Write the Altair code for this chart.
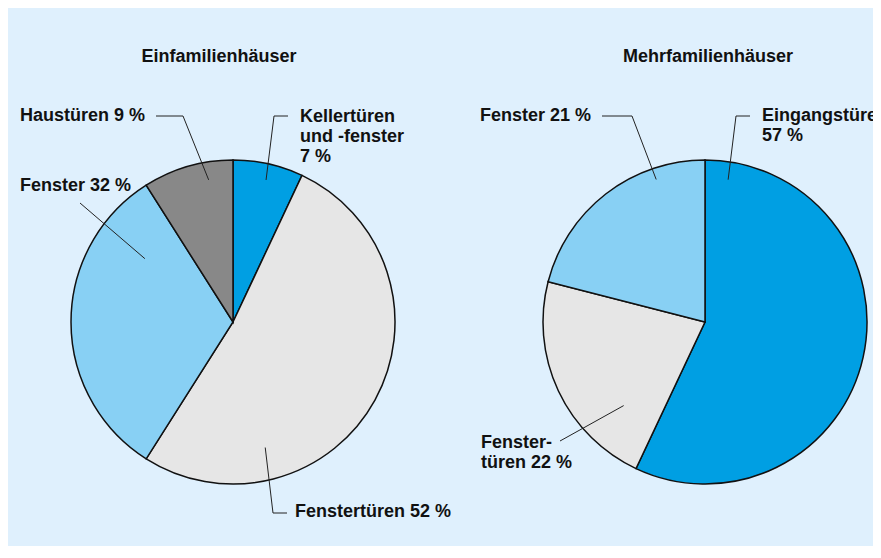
import math
import altair as alt
import pandas as pd

# ---------------- data ----------------
titles = ["Einfamilienhäuser", "Mehrfamilienhäuser"]

pie1_labels = ["Kellertüren und -fenster", "Fenstertüren", "Fenster", "Haustüren"]
pie1_values = [7, 52, 32, 9]
pie1_texts = ["Kellertüren\nund -fenster\n7 %", "Fenstertüren 52 %", "Fenster 32 %", "Haustüren 9 %"]

pie2_labels = ["Eingangstüren", "Fenstertüren", "Fenster"]
pie2_values = [57, 22, 21]
pie2_texts = ["Eingangstüren\n57 %", "Fenster-\ntüren 22 %", "Fenster 21 %"]

# ---------------- layout / style ----------------
W, H = 865, 538
X0, Y0 = 8, 8                     # page offset of the chart
R = 162
centers = [(233, 322), (705, 322)]
title_pos = [(219, 57), (708, 57)]

# label placement: (text x, first-line y, anchor position inside slice as fraction of slice, radius fraction, extra leader points)
place1 = [
    (300, 117, 0.52, 0.90, [(274, 116), (288, 116)]),
    (295, 512, 0.75, 0.80, [(273, 513), (287, 513)]),
    (20, 186, 0.81, 0.67, [(80, 203)]),
    (20, 116, 0.70, 0.89, [(183, 116), (156, 116)]),
]
place2 = [
    (762, 116, 0.045, 0.89, [(736, 116), (750, 116)]),
    (481, 443, 0.24, 0.72, [(560, 441)]),
    (480, 116, 0.75, 0.93, [(632, 116), (602, 116)]),
]

kind_domain = ["Kellertüren und -fenster", "Eingangstüren", "Fenstertüren", "Fenster", "Haustüren"]
kind_range = ["#009fe3", "#009fe3", "#e6e6e6", "#88d0f4", "#888888"]

BG = "#dff0fd"
FONT = "Liberation Sans"

# ---------------- tables ----------------
arc_rows, line_rows, text_rows = [], [], []
for p, (labels, values, texts, place) in enumerate(
    [(pie1_labels, pie1_values, pie1_texts, place1), (pie2_labels, pie2_values, pie2_texts, place2)]
):
    cx, cy = centers[p]
    cum = 0
    for i, (lab, val, txt, pl) in enumerate(zip(labels, values, texts, place)):
        start, end = cum, cum + val
        cum = end
        arc_rows.append(dict(pie=p, idx=i, kind=lab, start=start, end=end, cx=cx, cy=cy))
        tx, ty, frac, rf, extra = pl
        ang = (start + frac * (end - start)) / 100 * 2 * math.pi
        ax = cx + rf * R * math.sin(ang)
        ay = cy - rf * R * math.cos(ang)
        lid = f"{p}-{i}"
        pts = [(ax, ay)] + extra
        for k, (px, py) in enumerate(pts):
            line_rows.append(dict(lid=lid, k=k, x=px, y=py))
        text_rows.append(dict(x=tx, y=ty, t=txt))

arcs = pd.DataFrame(arc_rows)
leaders = pd.DataFrame(line_rows)
labels_df = pd.DataFrame(text_rows)
titles_df = pd.DataFrame(dict(x=[t[0] for t in title_pos], y=[t[1] for t in title_pos], t=titles))

xs = alt.Scale(domain=[X0, X0 + W], nice=False, zero=False)
ys = alt.Scale(domain=[Y0 + H, Y0], nice=False, zero=False)

pies = alt.Chart(arcs).mark_arc(outerRadius=R, stroke="#111111", strokeWidth=1.5).encode(
    x=alt.X("cx:Q", scale=xs, axis=None),
    y=alt.Y("cy:Q", scale=ys, axis=None),
    theta=alt.Theta("start:Q", scale=alt.Scale(domain=[0, 100], range=[0, 2 * math.pi])),
    theta2="end:Q",
    color=alt.Color("kind:N", scale=alt.Scale(domain=kind_domain, range=kind_range), legend=None),
)

lines = alt.Chart(leaders).mark_line(color="#222222", strokeWidth=1).encode(
    x=alt.X("x:Q", scale=xs, axis=None),
    y=alt.Y("y:Q", scale=ys, axis=None),
    detail="lid:N",
    order="k:Q",
)

texts = alt.Chart(labels_df).mark_text(
    align="left", baseline="middle", font=FONT, fontSize=18, fontWeight="bold",
    lineBreak="\n", lineHeight=20, color="#111111",
).encode(
    x=alt.X("x:Q", scale=xs, axis=None),
    y=alt.Y("y:Q", scale=ys, axis=None),
    text="t:N",
)

heads = alt.Chart(titles_df).mark_text(
    align="center", baseline="middle", font=FONT, fontSize=18, fontWeight="bold", color="#111111",
).encode(
    x=alt.X("x:Q", scale=xs, axis=None),
    y=alt.Y("y:Q", scale=ys, axis=None),
    text="t:N",
)

chart = (
    alt.layer(pies, lines, texts, heads)
    .properties(width=W, height=H, autosize=alt.AutoSizeParams(type="none"), padding=0, background=BG)
    .configure_view(stroke=None)
)

chart.save("out.html", embed_options={"renderer": "svg", "actions": False})
